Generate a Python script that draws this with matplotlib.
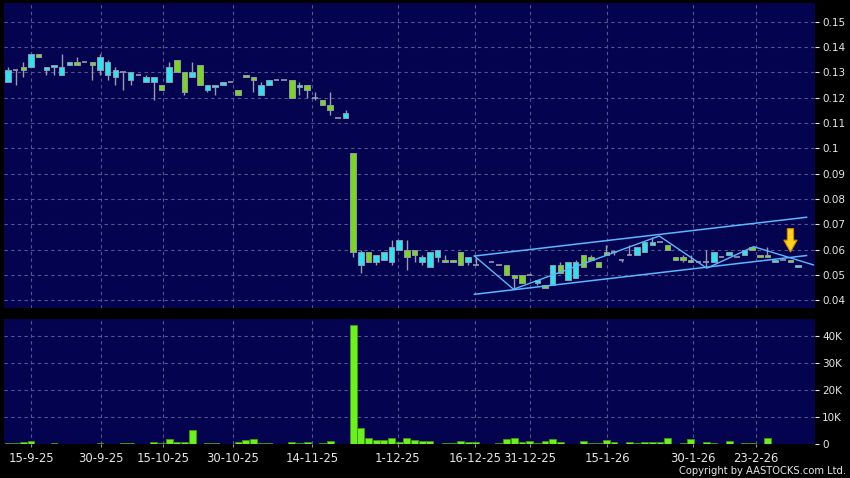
import numpy as np
import matplotlib
matplotlib.use('Agg')
import matplotlib.pyplot as plt

# daily candles, one slot per trading day (None = no candle)
opens = [0.126, 0.131, 0.132, 0.132, 0.137, 0.131, 0.132, 0.129, 0.133, 0.134,
         0.134, 0.134, 0.131, 0.129, 0.128, 0.130, 0.127, 0.129, 0.126, 0.126,
         0.125, 0.126, 0.135, 0.130, 0.128, 0.133, 0.123, 0.124, 0.125, 0.126,
         0.123, 0.129, 0.128, 0.121, 0.125, 0.127, 0.127, 0.127, 0.124, 0.125,
         0.120, 0.119, 0.117, 0.112, 0.112, 0.098, 0.054, 0.059, 0.055, 0.056,
         0.055, 0.060, 0.060, 0.060, 0.055, 0.053, 0.057, 0.056, 0.056, 0.059,
         0.055, 0.054, None, 0.055, 0.054, 0.054, 0.050, 0.050, 0.050, 0.047,
         0.046, 0.046, 0.054, 0.048, 0.049, 0.058, 0.057, 0.055, 0.059, 0.059,
         0.056, 0.058, 0.058, 0.059, 0.062, 0.063, 0.062, 0.057, 0.057, 0.056,
         0.055, 0.055, 0.055, 0.057, 0.058, 0.057, 0.058, 0.061, 0.058, 0.058,
         0.055, 0.056, 0.056, 0.053]
highs = [0.132, 0.131, 0.134, 0.137, 0.137, 0.132, 0.133, 0.137, 0.134, 0.136,
         0.134, 0.134, 0.137, 0.135, 0.132, 0.130, 0.130, 0.129, 0.129, 0.128,
         0.125, 0.134, 0.135, 0.130, 0.134, 0.133, 0.125, 0.125, 0.126, 0.126,
         0.123, 0.129, 0.128, 0.126, 0.127, 0.127, 0.127, 0.127, 0.126, 0.125,
         0.122, 0.119, 0.122, 0.112, 0.115, 0.098, 0.060, 0.059, 0.058, 0.059,
         0.064, 0.064, 0.064, 0.060, 0.058, 0.059, 0.060, 0.058, 0.056, 0.059,
         0.057, 0.057, None, 0.055, 0.054, 0.054, 0.050, 0.050, 0.050, 0.048,
         0.046, 0.054, 0.055, 0.055, 0.056, 0.058, 0.058, 0.055, 0.062, 0.060,
         0.056, 0.062, 0.061, 0.063, 0.065, 0.063, 0.062, 0.057, 0.058, 0.058,
         0.055, 0.060, 0.059, 0.057, 0.059, 0.057, 0.060, 0.061, 0.058, 0.061,
         0.056, 0.056, 0.056, 0.054]
lows = [0.126, 0.125, 0.128, 0.132, 0.136, 0.129, 0.129, 0.129, 0.133, 0.133,
        0.134, 0.127, 0.129, 0.127, 0.125, 0.123, 0.125, 0.129, 0.126, 0.119,
        0.123, 0.126, 0.130, 0.121, 0.128, 0.125, 0.122, 0.121, 0.125, 0.126,
        0.121, 0.128, 0.122, 0.121, 0.125, 0.127, 0.127, 0.120, 0.121, 0.120,
        0.119, 0.117, 0.113, 0.112, 0.112, 0.057, 0.051, 0.055, 0.054, 0.056,
        0.054, 0.060, 0.052, 0.055, 0.054, 0.053, 0.055, 0.055, 0.055, 0.054,
        0.054, 0.054, None, 0.055, 0.054, 0.050, 0.045, 0.047, 0.050, 0.046,
        0.045, 0.046, 0.051, 0.048, 0.049, 0.053, 0.056, 0.053, 0.058, 0.058,
        0.055, 0.058, 0.058, 0.059, 0.062, 0.063, 0.060, 0.056, 0.055, 0.055,
        0.055, 0.053, 0.055, 0.057, 0.058, 0.057, 0.058, 0.060, 0.057, 0.057,
        0.055, 0.056, 0.055, 0.053]
closes = [0.131, 0.131, 0.131, 0.137, 0.136, 0.132, 0.133, 0.132, 0.134, 0.133,
          0.134, 0.133, 0.136, 0.134, 0.131, 0.130, 0.130, 0.129, 0.128, 0.128,
          0.123, 0.132, 0.130, 0.122, 0.130, 0.125, 0.125, 0.125, 0.126, 0.126,
          0.121, 0.128, 0.127, 0.125, 0.127, 0.127, 0.127, 0.120, 0.125, 0.123,
          0.120, 0.117, 0.115, 0.112, 0.114, 0.059, 0.059, 0.055, 0.058, 0.059,
          0.061, 0.064, 0.057, 0.058, 0.057, 0.059, 0.060, 0.055, 0.055, 0.054,
          0.057, 0.054, None, 0.055, 0.054, 0.050, 0.049, 0.047, 0.050, 0.048,
          0.045, 0.054, 0.051, 0.055, 0.055, 0.053, 0.056, 0.053, 0.058, 0.059,
          0.056, 0.058, 0.061, 0.063, 0.063, 0.063, 0.060, 0.056, 0.056, 0.055,
          0.055, 0.055, 0.059, 0.057, 0.059, 0.057, 0.060, 0.060, 0.057, 0.057,
          0.056, 0.056, 0.055, 0.054]

vol_idx = [0, 1, 2, 3, 6, 12, 15, 16, 19, 20, 21, 22, 23, 24, 26, 27, 30, 31, 32, 33,
           34, 37, 38, 39, 40, 41, 42, 45, 46, 47, 48, 49, 50, 51, 52, 53, 54, 55, 56, 57,
           58, 59, 60, 61, 64, 65, 66, 67, 68, 69, 70, 71, 72, 75, 76, 77, 78, 79, 81, 82,
           83, 84, 85, 86, 88, 89, 91, 92, 94, 96, 97, 99, 100]
volumes = [300, 300, 900, 1200, 300, 400, 300, 400, 600, 500, 1850, 900, 900, 5200, 500, 500, 900, 1350, 2000, 200,
           400, 900, 500, 700, 100, 500, 1100, 44000, 5900, 2300, 1500, 1500, 2300, 900, 2300, 1600, 1000, 1200, 100, 400,
           400, 1000, 600, 700, 300, 2000, 2300, 600, 1200, 200, 1100, 1850, 700, 1200, 200, 400, 1600, 700, 900, 500,
           600, 900, 700, 2300, 300, 2000, 600, 500, 1000, 200, 200, 2300, 100]

date_pos = [3.0, 12.1, 20.2, 29.3, 39.6, 50.8, 60.9, 68.0, 78.1, 89.3, 97.5]
date_labels = ['15-9-25', '30-9-25', '15-10-25', '30-10-25', '14-11-25', '1-12-25',
               '16-12-25', '31-12-25', '15-1-26', '30-1-26', '23-2-26']
price_ticks = [0.04, 0.05, 0.06, 0.07, 0.08, 0.09, 0.1, 0.11, 0.12, 0.13, 0.14, 0.15]
vol_ticks = [0, 10000, 20000, 30000, 40000]
vol_labels = ['0', '10K', '20K', '30K', '40K']

# drawn trend lines
chan_x = [60.8, 104.1]
chan_upper = [0.0575, 0.0728]
chan_lower = [0.0424, 0.0577]
zig_x = [60.8, 65.9, 84.9, 91.1, 97.2, 105.0]
zig_y = [0.0575, 0.0444, 0.0654, 0.0527, 0.0612, 0.0540]
arrow_x = 102.0
arrow_top = 0.0683
arrow_tip = 0.0591

NAVY = '#03034f'
UP = '#2de3f2'
DOWN = '#7ad61f'
WICK = '#9a9aae'
GRID = '#55558f'
TXT = '#e6e6e6'

fig = plt.figure(figsize=(8.5, 4.78), dpi=100)
fig.patch.set_facecolor('black')
ax = fig.add_axes([4 / 850, 1 - 307.5 / 478, 811 / 850, 304.5 / 478])
axv = fig.add_axes([4 / 850, 1 - 444 / 478, 811 / 850, 125 / 478])

for a in (ax, axv):
    a.set_facecolor(NAVY)
    for s in a.spines.values():
        s.set_visible(False)
    a.set_xlim(-0.52, 105.2)
    a.set_xticks(date_pos)
    a.grid(True, color=GRID, linestyle=(0, (3, 3)), linewidth=0.8)
    a.set_axisbelow(True)
    a.yaxis.tick_right()
    a.tick_params(axis='y', colors=TXT, labelsize=7.5, length=3, width=0.8, pad=2)
    a.tick_params(axis='x', colors='#999999', labelcolor=TXT, labelsize=8.4,
                  length=2.5, width=0.8, pad=3)

ax.set_xticklabels([])
ax.tick_params(axis='x', length=0)
axv.set_xticklabels(date_labels)

# candles
o = np.array([np.nan if v is None else v for v in opens])
h = np.array([np.nan if v is None else v for v in highs])
l = np.array([np.nan if v is None else v for v in lows])
c = np.array([np.nan if v is None else v for v in closes])
x = np.arange(len(o))
ok = ~np.isnan(o)

ax.vlines(x[ok], l[ok], h[ok], color=WICK, linewidth=1, zorder=2)
cols = np.where(c >= o, UP, DOWN)
body = ok & (np.abs(c - o) > 1e-9)
ax.bar(x[body], np.abs(c - o)[body], bottom=np.minimum(o, c)[body], width=0.72,
       color=cols[body], edgecolor='#8e9aa6', linewidth=0.7, zorder=3)
flat = ok & ~body
ax.hlines(c[flat], x[flat] - 0.36, x[flat] + 0.36, color=WICK, linewidth=1.2, zorder=3)

# trend lines
ax.plot(chan_x, chan_upper, color='#5cb6ff', linewidth=1.1, zorder=4)
ax.plot(chan_x, chan_lower, color='#5cb6ff', linewidth=1.1, zorder=4)
ax.plot(zig_x, zig_y, color='#5cb6ff', linewidth=1.0, zorder=4)
ax.annotate('', xy=(arrow_x, arrow_tip), xytext=(arrow_x, arrow_top),
            arrowprops=dict(arrowstyle='simple,head_length=0.85,head_width=0.95,tail_width=0.45',
                            fc='#ffd21a', ec='#d08a00', lw=0.8, mutation_scale=10,
                            shrinkA=0, shrinkB=0), zorder=5)

ax.set_ylim(0.0372, 0.1573)
ax.set_yticks(price_ticks)
ax.set_yticklabels(['{:g}'.format(t) for t in price_ticks])

# volume
axv.bar(vol_idx, volumes, width=0.9, color='#6cf01e', edgecolor='#3f9a12', linewidth=0.6, zorder=3)
axv.set_ylim(0, 46300)
axv.set_yticks(vol_ticks)
axv.set_yticklabels(vol_labels)

fig.text(846 / 850, 1 - 471 / 478, 'Copyright by AASTOCKS.com Ltd.', color=TXT,
         fontsize=7.2, ha='right', va='center')

fig.savefig('out.png', dpi=100, facecolor='black')
